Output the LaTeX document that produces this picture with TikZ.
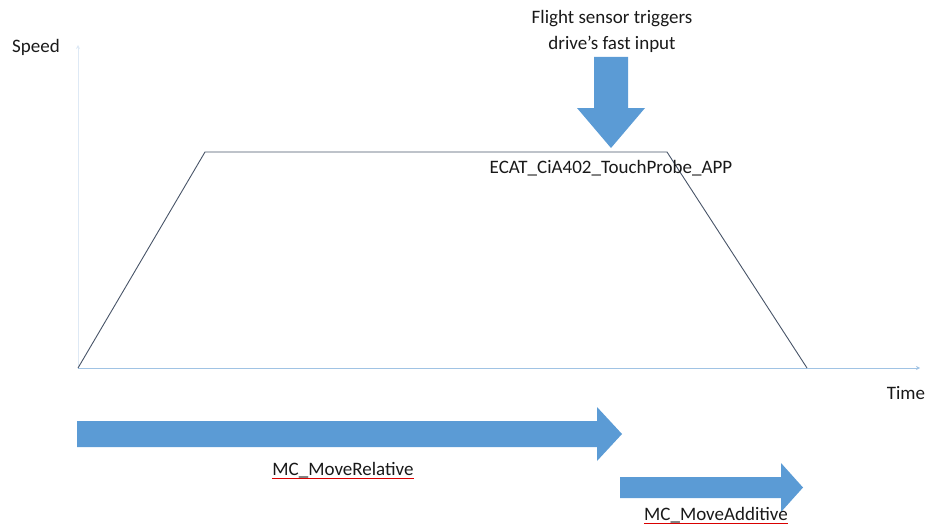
\documentclass[tikz,border=0pt]{standalone}
\usepackage{fontspec}
\setmainfont{Carlito}
\usetikzlibrary{arrows.meta}
\definecolor{officeblue}{RGB}{91,155,213}
\definecolor{axisblue}{RGB}{160,195,228}
\definecolor{faintblue}{RGB}{222,233,245}
\definecolor{profile}{RGB}{72,84,104}
\definecolor{txt}{RGB}{25,25,25}
\begin{document}
\begin{tikzpicture}[x=1pt,y=-1pt,
    lbl/.style={text=txt,inner sep=0pt,font=\fontsize{19}{26}\selectfont},
    axis/.style={line width=1pt,-{Stealth[length=4pt,width=4pt]}},
    spell/.style={red!85!black,line width=0.6pt}]
  \useasboundingbox (0,0) rectangle (925,527);
  \def\toparrow{(594,57) -- (628,57) -- (628,108) -- (645,108) -- (611,148) -- (577,108) -- (594,108) -- cycle}
  \def\relarrow{(77,421) -- (597,421) -- (597,407) -- (622,434) -- (597,461) -- (597,447) -- (77,447) -- cycle}
  \def\addarrow{(620,477) -- (781,477) -- (781,463) -- (803,487.5) -- (781,512) -- (781,498) -- (620,498) -- cycle}
  % axes
  \coordinate (O) at (78,368);
  \coordinate (tmax) at (920,368);
  \coordinate (vmax) at (78,45);
  \draw [axis,axisblue] (O) -- (tmax);
  \draw [axis,faintblue] (O) -- (vmax);
  \node [lbl] (speed) at (36,47) {Speed};
  \node [lbl] (time) at (906,393) {Time};
  % speed profile
  \coordinate (acc) at (205,152);
  \coordinate (dec) at (667,152);
  \coordinate (stop) at (807,368);
  \draw [profile,line width=0.9pt] (O) -- (acc) -- (dec) -- (stop);
  % touch probe trigger
  \fill [officeblue]\toparrow;
  \node [lbl,align=center] (sensor) at (612,31) {Flight sensor triggers\\drive’s fast input};
  \node [lbl] (probe) at (611,168) {ECAT\_CiA402\_TouchProbe\_APP};
  % motion commands
  \fill [officeblue]\relarrow;
  \fill [officeblue]\addarrow;
  \node [lbl] (rel) at (343,470) {MC\_MoveRelative};
  \node [lbl] (add) at (716,515) {MC\_MoveAdditive};
  \draw [spell] ([yshift=-3pt]rel.base west) -- ([yshift=-3pt]rel.base east);
  \draw [spell] ([yshift=-3pt]add.base west) -- ([yshift=-3pt]add.base east);
\end{tikzpicture}
\end{document}
